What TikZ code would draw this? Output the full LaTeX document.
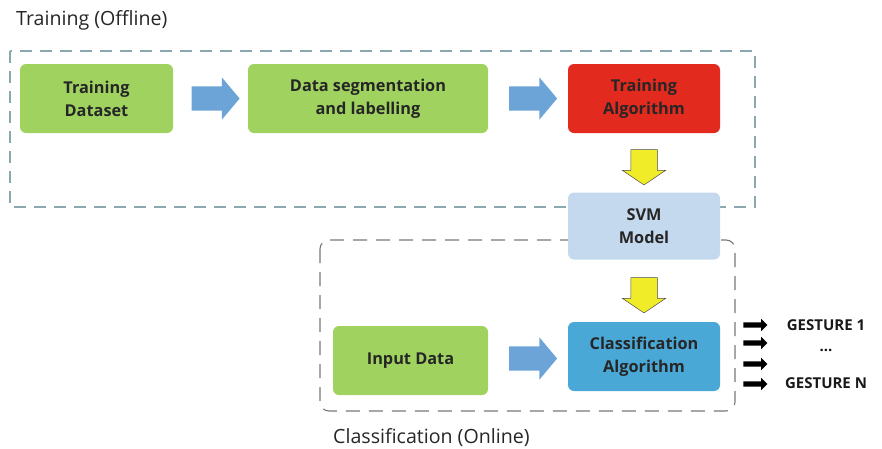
\documentclass[tikz,border=0pt]{standalone}
\usepackage{fontspec}
\setmainfont{Open Sans}
\usetikzlibrary{shapes.arrows,calc}

\definecolor{boxgreen}{RGB}{160,210,96}
\definecolor{boxred}{RGB}{226,42,30}
\definecolor{boxsvm}{RGB}{197,217,238}
\definecolor{boxcls}{RGB}{74,168,214}
\definecolor{arrowblue}{RGB}{108,164,216}
\definecolor{arrowyellow}{RGB}{240,236,40}
\definecolor{traindash}{RGB}{140,168,175}
\definecolor{clsdash}{RGB}{120,120,120}

\tikzset{
  stagebox/.style={rounded corners=6pt, inner sep=0pt, align=center,
    font=\fontsize{16.3}{23}\selectfont\bfseries, text=black!85},
  flowarrow/.style={single arrow, fill=arrowblue, draw=none, inner sep=12pt,
    minimum height=48pt, single arrow head extend=9pt,
    single arrow tip angle=100},
  passarrow/.style={single arrow, fill=arrowyellow, draw=black!70, line width=0.5pt,
    inner sep=13pt, minimum height=32pt,
    single arrow head extend=8.5pt, single arrow tip angle=112,
    shape border rotate=270},
  outarrow/.style={single arrow, fill=black, draw=none, inner sep=2.5pt,
    minimum height=24pt, single arrow head extend=3.5pt,
    single arrow tip angle=90},
  phaselabel/.style={anchor=west, inner sep=0pt, font=\fontsize{19.6}{22}\selectfont, text=black!85},
  gesture/.style={inner sep=0pt, font=\fontsize{15}{17}\selectfont\bfseries, text=black!90},
}

\begin{document}
\begin{tikzpicture}[x=1pt, y=-1pt]
\useasboundingbox (0,0) rectangle (882,448);

% phase frames
\draw[traindash, line width=1.3pt, dash pattern=on 12pt off 8pt] (10,51) rectangle (755,207);
\draw[clsdash, line width=1.1pt, dash pattern=on 14pt off 9pt, rounded corners=9pt] (320,240) rectangle (735,411);

\node[phaselabel] (offline) at (16,20) {Training (Offline)};
\node[phaselabel] (online) at (333,438) {Classification (Online)};

% stages
\node[stagebox, fill=boxgreen, minimum width=153pt, minimum height=69pt] (tds) at (96.5,98.5) {Training\\Dataset};
\node[stagebox, fill=boxgreen, minimum width=240pt, minimum height=69pt] (seg) at (368,98.5) {Data segmentation\\and labelling};
\node[stagebox, fill=boxred, minimum width=152pt, minimum height=69pt] (talg) at (644,98.5) {Training\\Algorithm};
\node[stagebox, fill=boxsvm, minimum width=152pt, minimum height=67pt] (svm) at (644,226) {SVM\\Model};
\node[stagebox, fill=boxgreen, minimum width=155pt, minimum height=69pt] (inp) at (410.5,360.5) {Input Data};
\node[stagebox, fill=boxcls, minimum width=152pt, minimum height=69pt] (calg) at (644,356.5) {Classification\\Algorithm};

% flow arrows
\node[flowarrow] (a1) at ($(tds.east)!0.5!(seg.west)$) {};
\node[flowarrow] (a2) at ($(seg.east)!0.5!(talg.west)$) {};
\node[flowarrow] (a3) at ($(inp.east)!0.5!(calg.west)$) {};
\node[passarrow] (y1) at ($(talg.south)!0.5!(svm.north)$) {};
\node[passarrow] (y2) at ($(svm.south)!0.5!(calg.north)$) {};

% outputs
\node[gesture] (g1) at (826,325) {GESTURE 1};
\node[gesture] (gdots) at (826,350) {...};
\node[gesture] (gn) at (826,383) {GESTURE N};
\node[outarrow] (o1) at (754,325) {};
\node[outarrow] (o2) at (754,343) {};
\node[outarrow] (o3) at (754,364) {};
\node[outarrow] (o4) at (754,384) {};
\end{tikzpicture}
\end{document}
